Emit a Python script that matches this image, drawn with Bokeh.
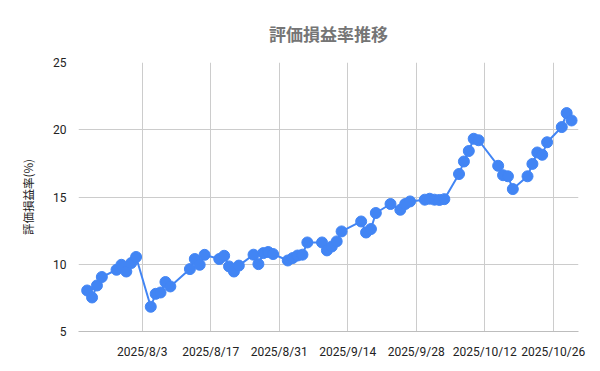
import pandas as pd
from bokeh.plotting import figure
from bokeh.models import FixedTicker, Range1d, Title
from bokeh.embed import file_html
from bokeh.resources import INLINE

dates = [
    "2025-07-22", "2025-07-23", "2025-07-24", "2025-07-25",
    "2025-07-28", "2025-07-29", "2025-07-30", "2025-07-31", "2025-08-01",
    "2025-08-04", "2025-08-05", "2025-08-06", "2025-08-07", "2025-08-08",
    "2025-08-12", "2025-08-13", "2025-08-14", "2025-08-15",
    "2025-08-18", "2025-08-19", "2025-08-20", "2025-08-21", "2025-08-22",
    "2025-08-25", "2025-08-26", "2025-08-27", "2025-08-28", "2025-08-29",
    "2025-09-01", "2025-09-02", "2025-09-03", "2025-09-04", "2025-09-05",
    "2025-09-08", "2025-09-09", "2025-09-10", "2025-09-11", "2025-09-12",
    "2025-09-16", "2025-09-17", "2025-09-18", "2025-09-19",
    "2025-09-22", "2025-09-24", "2025-09-25", "2025-09-26",
    "2025-09-29", "2025-09-30", "2025-10-01", "2025-10-02", "2025-10-03",
    "2025-10-06", "2025-10-07", "2025-10-08", "2025-10-09", "2025-10-10",
    "2025-10-14", "2025-10-15", "2025-10-16", "2025-10-17",
    "2025-10-20", "2025-10-21", "2025-10-22", "2025-10-23", "2025-10-24",
    "2025-10-27", "2025-10-28", "2025-10-29",
]
values = [
    8.05, 7.53, 8.42, 9.05,
    9.59, 9.96, 9.46, 10.09, 10.54,
    6.84, 7.80, 7.90, 8.68, 8.35,
    9.64, 10.39, 9.96, 10.70,
    10.39, 10.63, 9.84, 9.46, 9.90,
    10.71, 10.01, 10.83, 10.91, 10.76,
    10.28, 10.46, 10.65, 10.71, 11.62,
    11.62, 11.03, 11.32, 11.70, 12.44,
    13.18, 12.36, 12.62, 13.81,
    14.48, 14.05, 14.48, 14.67,
    14.80, 14.87, 14.80, 14.78, 14.84,
    16.71, 17.64, 18.42, 19.33, 19.22,
    17.32, 16.62, 16.54, 15.59,
    16.54, 17.46, 18.31, 18.14, 19.07,
    20.20, 21.24, 20.69,
]
tick_labels = ["2025/8/3", "2025/8/17", "2025/8/31", "2025/9/14",
               "2025/9/28", "2025/10/12", "2025/10/26"]
tick_dates = ["2025-08-03", "2025-08-17", "2025-08-31", "2025-09-14",
              "2025-09-28", "2025-10-12", "2025-10-26"]
y_ticks = [5, 10, 15, 20, 25]

title_text = "評価損益率推移"
y_title = "評価損益率(%)"

x = pd.to_datetime(dates)
DAY_MS = 86400000.0
def ms(d):
    return pd.Timestamp(d).value / 1e6

shift = -0.75 * DAY_MS
tick_pos = [ms(d) + shift for d in tick_dates]

p = figure(width=600, height=371, x_axis_type="datetime",
           output_backend="svg", toolbar_location=None,
           min_border_left=78, min_border_right=22,
           min_border_top=62, min_border_bottom=40)
p.x_range = Range1d(ms("2025-07-20") + 0.23 * DAY_MS, ms("2025-10-30") + 0.42 * DAY_MS)
p.y_range = Range1d(5, 25)
p.outline_line_color = None
p.background_fill_color = "white"
p.border_fill_color = "white"

p.line(x, values, line_color="#4285F4", line_width=2)
p.scatter(x, values, size=11, fill_color="#4285F4", line_color="#4285F4")

p.xaxis.ticker = FixedTicker(ticks=tick_pos)
p.xaxis.major_label_overrides = {t: l for t, l in zip(tick_pos, tick_labels)}
p.yaxis.ticker = FixedTicker(ticks=y_ticks)

for ax in (p.xaxis[0], p.yaxis[0]):
    ax.major_tick_line_color = None
    ax.minor_tick_line_color = None
    ax.major_label_text_font = "Roboto"
    ax.major_label_text_font_size = "12px"
    ax.major_label_text_color = "#222222"
p.xaxis.axis_line_color = "#bdbdbd"
p.yaxis.axis_line_color = None
p.xaxis.major_label_standoff = 7
p.yaxis.major_label_standoff = 6

p.yaxis.axis_label = y_title
p.yaxis.axis_label_text_font = "Noto Sans CJK JP"
p.yaxis.axis_label_text_font_size = "11.5px"
p.yaxis.axis_label_text_font_style = "normal"
p.yaxis.axis_label_text_color = "#222222"
p.yaxis.axis_label_standoff = 14

p.xgrid.ticker = FixedTicker(ticks=tick_pos)
p.grid.grid_line_color = "#cccccc"
p.grid.grid_line_width = 1

p.title = Title(text=title_text, align="center",
                text_font="Noto Sans CJK JP",
                text_font_size="17px", text_font_style="bold",
                text_color="#757575", offset=0, standoff=34)

open("out.html", "w").write(file_html(p, INLINE))
